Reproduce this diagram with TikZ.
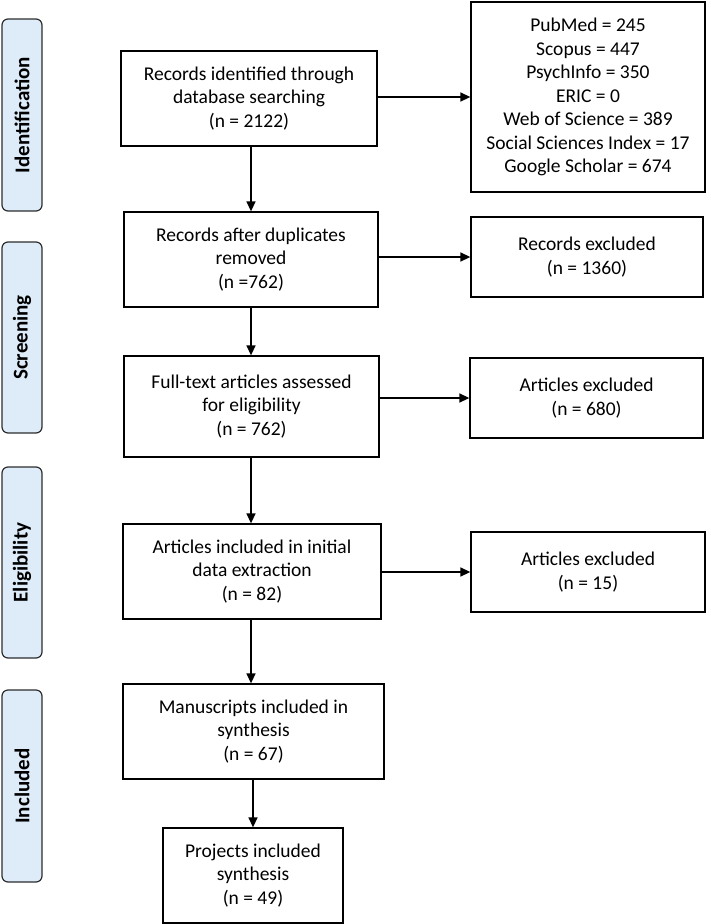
\documentclass[tikz,border=0pt]{standalone}
\usepackage{fontspec}
\setmainfont{Carlito}
\usetikzlibrary{arrows.meta}
\definecolor{sidefill}{RGB}{221,236,248}
\definecolor{sideline}{RGB}{45,45,45}
\tikzset{
  box/.style={draw=black, line width=1.3pt, inner sep=0pt, align=center,
    font=\fontsize{19.5}{23.5}\selectfont},
  side/.style={draw=sideline, fill=sidefill, line width=1.2pt, rounded corners=6pt,
    inner sep=0pt, minimum width=40pt},
  sidetext/.style={rotate=90, font=\fontsize{21}{25}\selectfont\bfseries},
  arr/.style={line width=1.4pt, -{Triangle[length=10pt,width=9pt]}}
}
\begin{document}
\begin{tikzpicture}[x=1pt,y=-1pt]
\useasboundingbox (0,0) rectangle (710,924);
% side labels
\node[side, minimum height=192pt] (L1) at (22,115) {};
\node[sidetext] (T1) at (L1.center) {Identification};
\node[side, minimum height=191pt] (L2) at (22,337.5) {};
\node[sidetext] (T2) at (L2.center) {Screening};
\node[side, minimum height=191pt] (L3) at (22,562.5) {};
\node[sidetext] (T3) at (L3.center) {Eligibility};
\node[side, minimum height=192pt] (L4) at (22,786) {};
\node[sidetext] (T4) at (L4.center) {Included};
% main boxes
\node[box, minimum width=256pt, minimum height=95pt] (b1) at (249,98.5)
  {Records identified through\\database searching\\(n = 2122)};
\node[box, minimum width=234pt, minimum height=190pt] (r1) at (588,97)
  {PubMed = 245\\Scopus = 447\\PsychInfo = 350\\ERIC = 0\\Web of Science = 389\\Social Sciences Index = 17\\Google Scholar = 674};
\node[box, minimum width=254pt, minimum height=95pt] (b2) at (251,259.5)
  {Records after duplicates\\removed\\(n =762)};
\node[box, minimum width=232pt, minimum height=80pt] (r2) at (587,257)
  {Records excluded\\(n = 1360)};
\node[box, minimum width=255pt, minimum height=101pt] (b3) at (251.5,406.5)
  {Full-text articles assessed\\for eligibility\\(n = 762)};
\node[box, minimum width=233pt, minimum height=80pt] (r3) at (586.5,398)
  {Articles excluded\\(n = 680)};
\node[box, minimum width=258pt, minimum height=95pt] (b4) at (252,571.5)
  {Articles included in initial\\data extraction\\(n = 82)};
\node[box, minimum width=234pt, minimum height=80pt] (r4) at (588,572)
  {Articles excluded\\(n = 15)};
\node[box, minimum width=261pt, minimum height=95pt] (b5) at (253.5,731.5)
  {Manuscripts included in\\synthesis\\(n = 67)};
\node[box, minimum width=180pt, minimum height=95pt] (b6) at (253,875.5)
  {Projects included\\synthesis\\(n = 49)};
\coordinate (spine) at (251,0);
% vertical arrows
\draw[arr] (b1.south -| spine) -- (b2.north -| spine);
\draw[arr] (b2.south -| spine) -- (b3.north -| spine);
\draw[arr] (b3.south -| spine) -- (b4.north -| spine);
\draw[arr] (b4.south -| spine) -- (b5.north -| spine);
\draw[arr] (b5.south -| b6.north) -- (b6.north);
% horizontal arrows
\draw[arr] (b1.east |- r1.west) -- (r1.west);
\draw[arr] (b2.east |- r2.west) -- (r2.west);
\draw[arr] (b3.east |- r3.west) -- (r3.west);
\draw[arr] (b4.east |- r4.west) -- (r4.west);
\end{tikzpicture}
\end{document}
